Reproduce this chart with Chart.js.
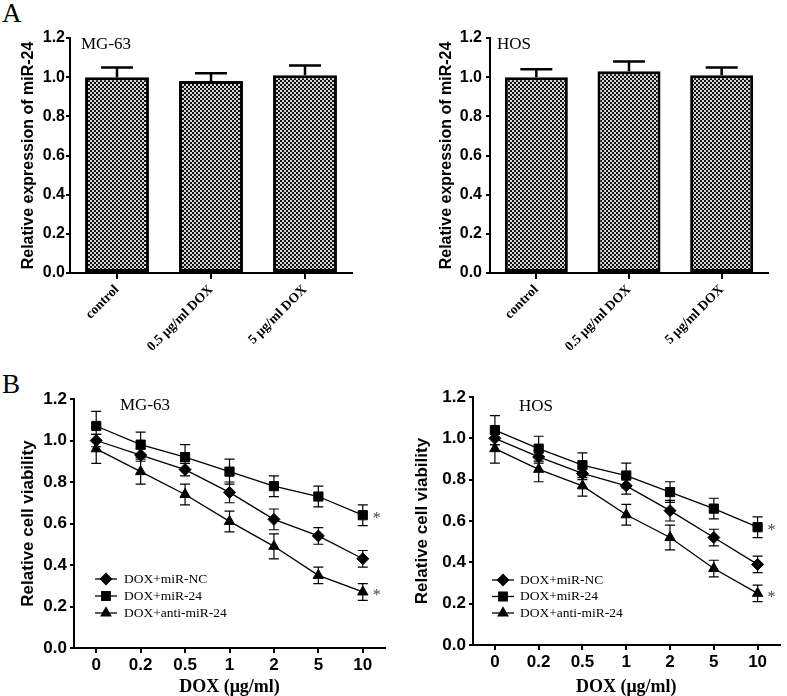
<!DOCTYPE html>
<html>
<head>
<meta charset="utf-8">
<script src="https://cdn.jsdelivr.net/npm/chart.js@4"></script>
<style>
  body { margin: 0; background: #fff; }
  #wrap { position: relative; width: 787px; height: 696px; overflow: hidden; background: #fff; }
  canvas { position: absolute; }
  .panel-letter {
    position: absolute;
    font-family: 'Liberation Serif', 'Times New Roman', serif;
    font-size: 27px;
    line-height: 1;
    color: #000;
  }
</style>
</head>
<body>
<div id="wrap">
  <div class="panel-letter" style="left:2px;top:0px">A</div>
  <div class="panel-letter" style="left:2px;top:371px">B</div>
  <canvas id="bLeft" width="400" height="351" style="left:0;top:345px"></canvas>
  <canvas id="bRight" width="387" height="351" style="left:400px;top:345px"></canvas>
  <canvas id="aLeft" width="395" height="365" style="left:0;top:0"></canvas>
  <canvas id="aRight" width="387" height="365" style="left:400px;top:0"></canvas>
</div>
<script>
// ---- data ----
const barCategories = ['control', '0.5 μg/ml DOX', '5 μg/ml DOX'];
const mg63Expr = [1.00, 0.98, 1.01];
const mg63ExprErr = [0.05, 0.04, 0.05];
const hosExpr = [1.00, 1.03, 1.01];
const hosExprErr = [0.04, 0.05, 0.04];

const doseLabels = ['0', '0.2', '0.5', '1', '2', '5', '10'];
const seriesNames = ['DOX+miR-NC', 'DOX+miR-24', 'DOX+anti-miR-24'];

const mg63NC = [1.00, 0.93, 0.86, 0.75, 0.62, 0.54, 0.43];
const mg63NCErr = [0.03, 0.03, 0.03, 0.05, 0.05, 0.04, 0.04];
const mg63Mir = [1.07, 0.98, 0.92, 0.85, 0.78, 0.73, 0.64];
const mg63MirErr = [0.07, 0.06, 0.06, 0.06, 0.05, 0.05, 0.05];
const mg63Anti = [0.96, 0.85, 0.74, 0.61, 0.49, 0.35, 0.27];
const mg63AntiErr = [0.07, 0.06, 0.05, 0.05, 0.06, 0.04, 0.04];

const hosNC = [1.00, 0.91, 0.83, 0.77, 0.65, 0.52, 0.39];
const hosNCErr = [0.03, 0.03, 0.03, 0.04, 0.05, 0.04, 0.04];
const hosMir = [1.04, 0.95, 0.87, 0.82, 0.74, 0.66, 0.57];
const hosMirErr = [0.07, 0.06, 0.06, 0.06, 0.05, 0.05, 0.05];
const hosAnti = [0.95, 0.85, 0.77, 0.63, 0.52, 0.37, 0.25];
const hosAntiErr = [0.07, 0.06, 0.05, 0.05, 0.06, 0.04, 0.04];

// ---- fonts ----
const SANS = "'Liberation Sans', Arial, sans-serif";
const SERIF = "'Liberation Serif', 'Times New Roman', serif";

// checkerboard fill for the bars
function checkerPattern() {
  const c = document.createElement('canvas');
  c.width = 4; c.height = 4;
  const g = c.getContext('2d');
  g.fillStyle = '#d8d8d8';
  g.fillRect(0, 0, 4, 4);
  g.fillStyle = '#111';
  g.fillRect(0, 0, 2, 2);
  g.fillRect(2, 2, 2, 2);
  return g.createPattern(c, 'repeat');
}

// error bars from each dataset's `errors` array
const errorBars = {
  id: 'errorBars',
  afterDatasetsDraw(chart, args, o) {
    const { ctx } = chart;
    const y = chart.scales.y;
    chart.data.datasets.forEach((ds, i) => {
      if (!ds.errors) return;
      const meta = chart.getDatasetMeta(i);
      meta.data.forEach((el, j) => {
        const v = ds.data[j], e = ds.errors[j];
        const top = y.getPixelForValue(v + e);
        const bot = o.upperOnly ? y.getPixelForValue(v) : y.getPixelForValue(v - e);
        ctx.save();
        ctx.strokeStyle = '#000';
        ctx.lineWidth = o.lineWidth;
        ctx.beginPath();
        ctx.moveTo(el.x, top); ctx.lineTo(el.x, bot);
        ctx.moveTo(el.x - o.cap, top); ctx.lineTo(el.x + o.cap, top);
        if (!o.upperOnly) { ctx.moveTo(el.x - o.cap, bot); ctx.lineTo(el.x + o.cap, bot); }
        ctx.stroke();
        ctx.restore();
      });
    });
  }
};

// '*' next to the last point of flagged series
const stars = {
  id: 'stars',
  afterDatasetsDraw(chart) {
    const { ctx } = chart;
    chart.data.datasets.forEach((ds, i) => {
      if (!ds.star) return;
      const pts = chart.getDatasetMeta(i).data;
      const el = pts[pts.length - 1];
      ctx.save();
      ctx.fillStyle = '#444';
      ctx.font = '16px ' + SERIF;
      ctx.textAlign = 'left';
      ctx.textBaseline = 'middle';
      ctx.fillText('*', el.x + 10, el.y + 4);
      ctx.restore();
    });
  }
};

// cell-line name inside the plot
const innerTitle = {
  id: 'innerTitle',
  afterDraw(chart, args, o) {
    if (!o.text) return;
    const { ctx, chartArea } = chart;
    ctx.save();
    ctx.fillStyle = '#000';
    ctx.font = '17px ' + SERIF;
    ctx.textAlign = 'left';
    ctx.textBaseline = 'middle';
    ctx.fillText(o.text, chartArea.left + o.dx, chartArea.top + o.dy);
    ctx.restore();
  }
};

// legend with line + marker, drawn inside the plot
const seriesLegend = {
  id: 'seriesLegend',
  afterDraw(chart, args, o) {
    if (!o.show) return;
    const { ctx, chartArea } = chart;
    const x0 = chartArea.left + o.dx;
    chart.data.datasets.forEach((ds, i) => {
      const y = chartArea.bottom - o.dy + i * o.rowGap;
      ctx.save();
      ctx.strokeStyle = '#000';
      ctx.fillStyle = '#000';
      ctx.lineWidth = 1.3;
      ctx.beginPath();
      ctx.moveTo(x0, y); ctx.lineTo(x0 + o.lineLen, y);
      ctx.stroke();
      Chart.helpers.drawPoint(ctx, { pointStyle: ds.pointStyle, radius: ds.pointRadius - 0.5, borderWidth: 1 }, x0 + o.lineLen / 2, y);
      ctx.font = '13.5px ' + SERIF;
      ctx.textAlign = 'left';
      ctx.textBaseline = 'middle';
      ctx.fillText(ds.label, x0 + o.textDx, y);
      ctx.restore();
    });
  }
};

function yAxis(opts) {
  return {
    min: 0,
    max: 1.2,
    ticks: {
      stepSize: 0.2,
      callback: v => Number(v).toFixed(1),
      color: '#000',
      padding: opts.tickPad,
      font: { family: SANS, weight: 'bold', size: opts.tickSize }
    },
    grid: { drawOnChartArea: false, tickLength: 4, color: '#000', lineWidth: 2 },
    border: { color: '#000', width: 2 },
    title: {
      display: true,
      text: opts.title,
      color: '#000',
      font: { family: SANS, weight: 'bold', size: opts.titleSize },
      padding: { top: opts.titlePad, bottom: 0 }
    },
    afterFit: s => {
      s.width = opts.width;
      s.paddingTop = 0; s.paddingBottom = 0;
    }
  };
}

function makeBarChart(id, values, errors, opts) {
  new Chart(document.getElementById(id), {
    type: 'bar',
    data: {
      labels: barCategories,
      datasets: [{
        data: values,
        errors: errors,
        backgroundColor: checkerPattern(),
        borderColor: '#000',
        borderWidth: 3,
        borderSkipped: false,
        barPercentage: 0.68,
        categoryPercentage: 1
      }]
    },
    options: {
      responsive: false,
      animation: false,
      events: [],
      layout: { padding: { left: 0, top: 38, right: opts.padRight, bottom: 0 } },
      plugins: {
        legend: { display: false },
        tooltip: { enabled: false },
        errorBars: { upperOnly: true, cap: 16, lineWidth: 2.5 },
        innerTitle: { text: opts.name, dx: opts.nameDx, dy: 7 },
        seriesLegend: { show: false }
      },
      scales: {
        x: {
          offset: true,
          ticks: {
            color: '#000',
            autoSkip: false,
            minRotation: 45,
            maxRotation: 45,
            padding: 3,
            font: { family: SERIF, weight: 'bold', size: 13.5 }
          },
          grid: { offset: false, drawOnChartArea: false, tickLength: 6, color: '#000', lineWidth: 2 },
          border: { color: '#000', width: 2 },
          afterFit: s => {
            s.height = 92;
            s.paddingLeft = 0; s.paddingRight = 0;
          }
        },
        y: yAxis({ width: opts.yWidth, tickSize: 16, tickPad: opts.tickPad, title: 'Relative expression of miR-24', titleSize: 16, titlePad: opts.titlePad })
      }
    },
    plugins: [errorBars, innerTitle, seriesLegend]
  });
}

function lineSet(label, data, errors, style, star) {
  return {
    label: label,
    data: data,
    errors: errors,
    star: star,
    borderColor: '#000',
    backgroundColor: '#000',
    borderWidth: 1.3,
    pointStyle: style,
    pointRadius: style === 'rect' ? 6.5 : 6,
    pointBackgroundColor: '#000',
    pointBorderColor: '#000',
    pointBorderWidth: 1,
    tension: 0
  };
}

function makeLineChart(id, sets, opts) {
  new Chart(document.getElementById(id), {
    type: 'line',
    data: { labels: doseLabels, datasets: sets },
    options: {
      responsive: false,
      animation: false,
      events: [],
      layout: { padding: { left: 0, top: opts.padTop, right: opts.padRight, bottom: 0 } },
      plugins: {
        legend: { display: false },
        tooltip: { enabled: false },
        errorBars: { upperOnly: false, cap: 5, lineWidth: 1.2 },
        innerTitle: { text: opts.name, dx: 46, dy: opts.nameDy },
        seriesLegend: { show: true, dx: opts.legDx, dy: opts.legDy, rowGap: opts.rowGap, lineLen: 22, textDx: opts.textDx }
      },
      scales: {
        x: {
          offset: true,
          ticks: {
            color: '#000',
            autoSkip: false,
            maxRotation: 0,
            padding: 2,
            font: { family: SANS, weight: 'bold', size: 17 }
          },
          grid: { offset: false, drawOnChartArea: false, tickLength: 5, color: '#000', lineWidth: 2 },
          border: { color: '#000', width: 2 },
          title: {
            display: true,
            text: 'DOX (μg/ml)',
            color: '#000',
            font: { family: SERIF, weight: 'bold', size: 18, lineHeight: 1 },
            padding: { top: 0, bottom: 0 }
          },
          afterFit: s => {
            s.height = opts.xHeight;
            s.paddingLeft = 0; s.paddingRight = 0;
          }
        },
        y: yAxis({ width: opts.yWidth, tickSize: 17, tickPad: 3, title: 'Relative cell viability', titleSize: 17, titlePad: opts.titlePad })
      }
    },
    plugins: [errorBars, stars, innerTitle, seriesLegend]
  });
}

makeBarChart('aLeft', mg63Expr, mg63ExprErr, { name: 'MG-63', nameDx: 11, yWidth: 70, padRight: 43, tickPad: 1, titlePad: 19 });
makeBarChart('aRight', hosExpr, hosExprErr, { name: 'HOS', nameDx: 7, yWidth: 90, padRight: 19, tickPad: 4, titlePad: 37 });

makeLineChart('bLeft', [
  lineSet(seriesNames[0], mg63NC, mg63NCErr, 'rectRot', false),
  lineSet(seriesNames[1], mg63Mir, mg63MirErr, 'rect', true),
  lineSet(seriesNames[2], mg63Anti, mg63AntiErr, 'triangle', true)
], { name: 'MG-63', nameDy: 7, yWidth: 74, padTop: 54, padRight: 15, xHeight: 48, titlePad: 18, legDx: 21, legDy: 69, rowGap: 17, textDx: 29 });

makeLineChart('bRight', [
  lineSet(seriesNames[0], hosNC, hosNCErr, 'rectRot', false),
  lineSet(seriesNames[1], hosMir, hosMirErr, 'rect', true),
  lineSet(seriesNames[2], hosAnti, hosAntiErr, 'triangle', true)
], { name: 'HOS', nameDy: 10, yWidth: 73, padTop: 52, padRight: 2, xHeight: 51, titlePad: 12, legDx: 19, legDy: 65, rowGap: 16.5, textDx: 28 });
</script>
</body>
</html>
